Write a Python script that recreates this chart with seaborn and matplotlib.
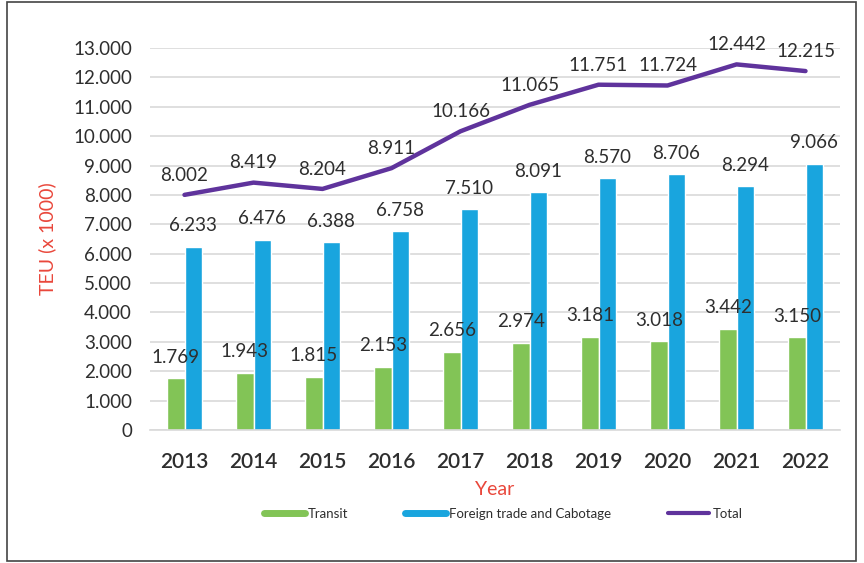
import numpy as np
import pandas as pd
import matplotlib
matplotlib.use("Agg")
import matplotlib.pyplot as plt
from matplotlib.lines import Line2D
from matplotlib.patches import Rectangle
from matplotlib.ticker import FuncFormatter
import seaborn as sns

years = ["2013", "2014", "2015", "2016", "2017", "2018", "2019", "2020", "2021", "2022"]
transit = [1769, 1943, 1815, 2153, 2656, 2974, 3181, 3018, 3442, 3150]
foreign = [6233, 6476, 6388, 6758, 7510, 8091, 8570, 8706, 8294, 9066]
total = [8002, 8419, 8204, 8911, 10166, 11065, 11751, 11724, 12442, 12215]
series_names = ["Transit", "Foreign trade and Cabotage", "Total"]

GREEN = "#82C456"
BLUE = "#19A5DE"
PURPLE = "#5F339C"
RED = "#E9473B"
TXT = "#2E2E2E"

sns.set_style("white")
plt.rcParams["font.family"] = ["Lato", "DejaVu Sans"]

def fmt(v):
    return f"{v:,.0f}".replace(",", ".")

bars = pd.DataFrame({
    "Year": years * 2,
    "Value": transit + foreign,
    "Series": [series_names[0]] * len(years) + [series_names[1]] * len(years),
})

fig = plt.figure(figsize=(8.64, 5.63), dpi=100)
fig.patches.append(Rectangle((7 / 864, 2 / 563), 849 / 864, 559 / 563,
                             transform=fig.transFigure, fill=False,
                             edgecolor="#444444", linewidth=1.2))
ax = fig.add_axes([150 / 864, 133 / 563, 690 / 864, 382 / 563])

sns.barplot(data=bars, x="Year", y="Value", hue="Series",
            palette=[GREEN, BLUE], width=0.5, gap=0, saturation=1,
            legend=False, ax=ax, zorder=2)
sns.lineplot(x=np.arange(len(years)), y=total, color=PURPLE, linewidth=3.2,
             ax=ax, zorder=3)

# value labels above each bar and each line point
for container in ax.containers:
    ax.bar_label(container, labels=[fmt(b.get_height()) for b in container],
                 padding=9, fontsize=13.5, color=TXT)
for i, v in enumerate(total):
    ax.annotate(fmt(v), (i, v), xytext=(0, 8), textcoords="offset points",
                ha="center", va="bottom", fontsize=13.5, color=TXT)

ax.set_xlim(-0.5, len(years) - 0.5)
ax.set_ylim(0, 13000)
ax.set_yticks(np.arange(0, 13001, 1000))
ax.yaxis.set_major_formatter(FuncFormatter(lambda v, p: fmt(v)))
ax.grid(axis="y", color="#D9D9D9", linewidth=1.2, zorder=0)
ax.set_axisbelow(True)
for s in ["top", "right", "left"]:
    ax.spines[s].set_visible(False)
ax.spines["bottom"].set_color("#D9D9D9")
ax.spines["bottom"].set_linewidth(1.2)
ax.tick_params(axis="y", length=0, labelsize=13.5, labelcolor=TXT, pad=13)
ax.tick_params(axis="x", length=0, labelsize=15, labelcolor=TXT, pad=16)
for lbl in ax.get_xticklabels():
    lbl.set_fontweight("semibold")

ax.set_xlabel("Year", color=RED, fontsize=14, labelpad=6)
ax.set_ylabel("TEU (x 1000)", color=RED, fontsize=14, labelpad=12)

handles = [Line2D([0], [0], color=GREEN, linewidth=5),
           Line2D([0], [0], color=BLUE, linewidth=5),
           Line2D([0], [0], color=PURPLE, linewidth=3)]
fig.legend(handles, series_names, loc="center", bbox_to_anchor=(503 / 864, 1 - 514 / 563),
           ncol=3, frameon=False, fontsize=9.5, columnspacing=4.3, handlelength=3.1,
           handletextpad=0.25, labelcolor=TXT)

fig.savefig("out.png", dpi=100)
